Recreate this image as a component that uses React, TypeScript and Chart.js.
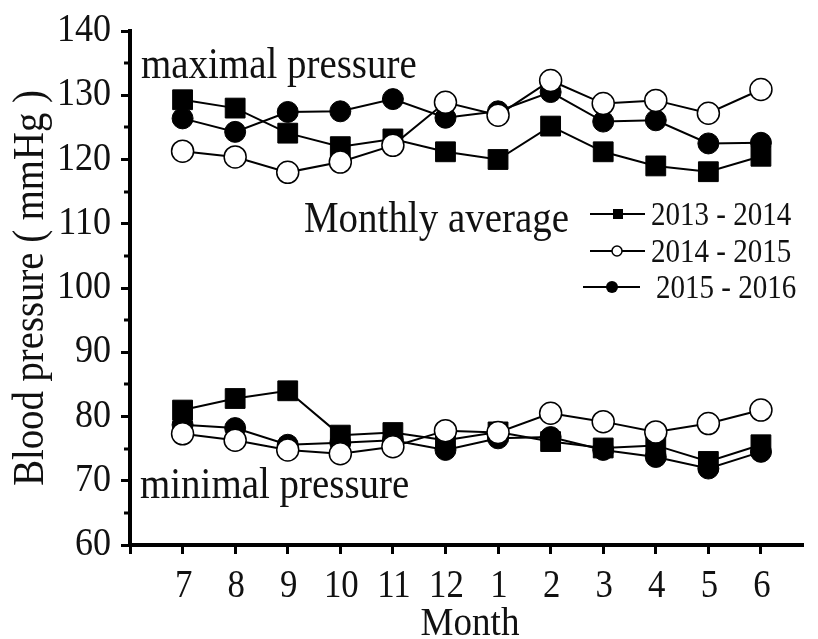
import React, { useEffect, useRef } from "react";
import { Chart, registerables } from "chart.js";

Chart.register(...registerables);

// ---- data ----
const MONTHS = ["7", "8", "9", "10", "11", "12", "1", "2", "3", "4", "5", "6"];
const SERIES_LABELS = ["2013 - 2014", "2014 - 2015", "2015 - 2016"];

const MAX_2013 = [129.3, 128.0, 124.1, 122.0, 123.2, 121.2, 120.0, 125.2, 121.2, 119.0, 118.1, 120.5];
const MAX_2014 = [121.3, 120.4, 118.0, 119.6, 122.2, 128.9, 126.9, 132.3, 128.7, 129.2, 127.2, 130.9];
const MAX_2015 = [126.4, 124.3, 127.4, 127.5, 129.4, 126.5, 127.5, 130.5, 125.9, 126.1, 122.5, 122.6];

const MIN_2013 = [81.0, 82.8, 84.0, 77.1, 77.5, 76.3, 77.6, 76.1, 75.1, 75.5, 73.0, 75.6];
const MIN_2014 = [77.3, 76.3, 74.8, 74.2, 75.3, 77.8, 77.5, 80.5, 79.2, 77.6, 78.9, 81.0];
const MIN_2015 = [78.7, 78.2, 75.6, 75.9, 76.3, 74.8, 76.6, 76.8, 74.8, 73.7, 71.9, 74.5];

const Y_MIN = 60;
const Y_MAX = 140;
const Y_STEP = 10;
const Y_MINOR = [65, 75, 85, 95, 105, 115, 125, 135];

const Y_TITLE = "Blood pressure ( mmHg )";
const X_TITLE = "Month";
const NOTE_MAX = "maximal pressure";
const NOTE_MIN = "minimal pressure";
const NOTE_AVG = "Monthly average";

const FONT = '"Liberation Serif", "Times New Roman", serif';

const toPoints = (arr: number[]) => arr.map((y, i) => ({ x: i + 1, y }));

function drawText(
  ctx: CanvasRenderingContext2D,
  text: string,
  x: number,
  y: number,
  size: number,
  align: CanvasTextAlign,
  sx = 0.88,
  rotate = 0
) {
  ctx.save();
  ctx.translate(x, y);
  if (rotate) ctx.rotate(rotate);
  ctx.scale(sx, 1);
  ctx.font = `${size}px ${FONT}`;
  ctx.textAlign = align;
  ctx.textBaseline = "alphabetic";
  ctx.fillStyle = "#111";
  ctx.fillText(text, 0, 0);
  ctx.restore();
}

const decorPlugin = {
  id: "decor",
  afterDraw(chart: any) {
    const ctx: CanvasRenderingContext2D = chart.ctx;
    const xs = chart.scales.x;
    const ys = chart.scales.y;
    const area = chart.chartArea;

    // minor y ticks
    ctx.save();
    ctx.strokeStyle = "#000";
    ctx.lineWidth = 3;
    for (const v of Y_MINOR) {
      const py = Math.round(ys.getPixelForValue(v));
      ctx.beginPath();
      ctx.moveTo(area.left - 6, py);
      ctx.lineTo(area.left, py);
      ctx.stroke();
    }
    ctx.restore();

    // y tick labels
    for (const t of ys.ticks) {
      const py = ys.getPixelForValue(t.value);
      drawText(ctx, String(t.value), area.left - 19, py + 10, 41, "right", 0.88);
    }
    // x tick labels
    for (const t of xs.ticks) {
      const idx = t.value - 1;
      if (idx < 0 || idx >= MONTHS.length) continue;
      const px = xs.getPixelForValue(t.value);
      drawText(ctx, MONTHS[idx], px + 1, 597, 40, "center", 0.87);
    }

    // axis titles
    drawText(ctx, X_TITLE, 470, 635, 39, "center", 0.95);
    drawText(ctx, Y_TITLE, 43, (area.top + area.bottom) / 2, 44, "center", 0.88, -Math.PI / 2);

    // annotations
    drawText(ctx, NOTE_MAX, 141, 78, 44, "left", 0.885);
    drawText(ctx, NOTE_MIN, 140, 498, 44, "left", 0.885);
    drawText(ctx, NOTE_AVG, 304, 232, 44, "left", 0.885);

    // legend
    const rows = [
      { y: 214, x1: 590, x2: 645, mx: 618, text: SERIES_LABELS[0], tx: 651, kind: "square" },
      { y: 251, x1: 590, x2: 645, mx: 617, text: SERIES_LABELS[1], tx: 651, kind: "open" },
      { y: 287, x1: 583, x2: 640, mx: 612, text: SERIES_LABELS[2], tx: 656, kind: "filled" },
    ];
    for (const r of rows) {
      ctx.save();
      ctx.strokeStyle = "#000";
      ctx.lineWidth = 2;
      ctx.beginPath();
      ctx.moveTo(r.x1, r.y);
      ctx.lineTo(r.x2, r.y);
      ctx.stroke();
      if (r.kind === "square") {
        ctx.fillStyle = "#000";
        ctx.fillRect(r.mx - 5, r.y - 5, 10, 10);
      } else if (r.kind === "open") {
        ctx.beginPath();
        ctx.arc(r.mx, r.y, 5, 0, Math.PI * 2);
        ctx.fillStyle = "#fff";
        ctx.fill();
        ctx.lineWidth = 1.5;
        ctx.stroke();
      } else {
        ctx.beginPath();
        ctx.arc(r.mx, r.y, 6, 0, Math.PI * 2);
        ctx.fillStyle = "#000";
        ctx.fill();
      }
      ctx.restore();
      drawText(ctx, r.text, r.tx, r.y + 11, 33, "left", 0.88);
    }
  },
};

const squareStyle = {
  pointStyle: "rect",
  pointRadius: 14,
  pointBackgroundColor: "#000",
  pointBorderColor: "#000",
  pointBorderWidth: 1,
  borderColor: "#000",
  borderWidth: 2,
  order: 2,
};
const openStyle = {
  pointStyle: "circle",
  pointRadius: 11,
  pointBackgroundColor: "#fff",
  pointBorderColor: "#000",
  pointBorderWidth: 1.5,
  borderColor: "#000",
  borderWidth: 2,
  order: 0,
};
const filledStyle = {
  pointStyle: "circle",
  pointRadius: 10.5,
  pointBackgroundColor: "#000",
  pointBorderColor: "#000",
  pointBorderWidth: 1,
  borderColor: "#000",
  borderWidth: 2,
  order: 1,
};

export default function App() {
  const ref = useRef<HTMLCanvasElement | null>(null);

  useEffect(() => {
    if (!ref.current) return;
    const chart = new Chart(ref.current, {
      type: "line",
      data: {
        datasets: [
          { label: SERIES_LABELS[0] + " max", data: toPoints(MAX_2013), ...squareStyle },
          { label: SERIES_LABELS[0] + " min", data: toPoints(MIN_2013), ...squareStyle },
          { label: SERIES_LABELS[1] + " max", data: toPoints(MAX_2014), ...openStyle },
          { label: SERIES_LABELS[1] + " min", data: toPoints(MIN_2014), ...openStyle },
          { label: SERIES_LABELS[2] + " max", data: toPoints(MAX_2015), ...filledStyle },
          { label: SERIES_LABELS[2] + " min", data: toPoints(MIN_2015), ...filledStyle },
        ] as any,
      },
      options: {
        responsive: false,
        animation: false,
        events: [],
        layout: { padding: { top: 31, right: 0, bottom: 0, left: 0 } },
        plugins: {
          legend: { display: false },
          tooltip: { enabled: false },
          title: { display: false },
        },
        scales: {
          x: {
            type: "linear",
            min: 0,
            max: 12.8,
            afterBuildTicks: (s: any) => {
              s.ticks = MONTHS.map((_, i) => ({ value: i + 1 }));
              s.ticks.unshift({ value: 0 });
            },
            afterFit: (s: any) => {
              s.height = 94;
            },
            ticks: { display: false },
            grid: {
              drawOnChartArea: false,
              drawTicks: true,
              tickLength: 9,
              tickWidth: 3,
              tickColor: "#000",
            },
            border: { display: true, width: 4, color: "#000" },
          },
          y: {
            type: "linear",
            min: Y_MIN,
            max: Y_MAX,
            ticks: { display: false, stepSize: Y_STEP },
            afterFit: (s: any) => {
              s.width = 130;
            },
            grid: {
              drawOnChartArea: false,
              drawTicks: true,
              tickLength: 9,
              tickWidth: 3,
              tickColor: "#000",
            },
            border: { display: true, width: 4, color: "#000" },
          },
        },
      } as any,
      plugins: [decorPlugin],
    });
    return () => chart.destroy();
  }, []);

  return (
    <div style={{ position: "absolute", left: 0, top: 0, width: 818, height: 639, background: "#fff" }}>
      <canvas ref={ref} width={818} height={639} />
    </div>
  );
}
